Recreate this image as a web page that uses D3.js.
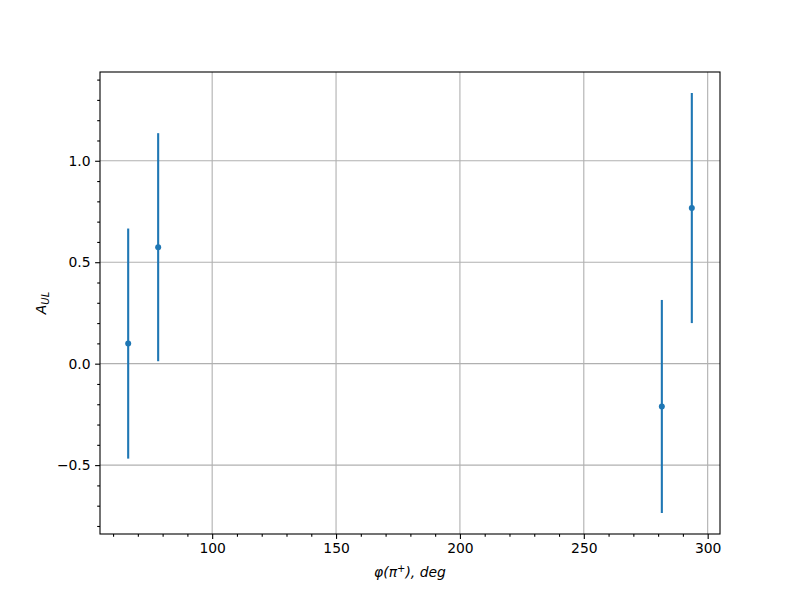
<!DOCTYPE html>
<html>
<head>
<meta charset="utf-8">
<script src="https://cdn.jsdelivr.net/npm/d3@7"></script>
<style>
  body { margin: 0; background: #fff; }
  svg { display: block; }
  text { font-family: "DejaVu Sans", sans-serif; }
</style>
</head>
<body>
<svg id="chart" width="800" height="600"></svg>
<script>
// Data
const phi = [66.1, 78.2, 281.5, 293.6];
const aul = [0.099, 0.574, -0.211, 0.767];
const err = [0.567, 0.562, 0.525, 0.567];
const xTicks = [100, 150, 200, 250, 300];
const yTicks = [-0.5, 0.0, 0.5, 1.0];

const W = 800, H = 600;
const m = { left: 100, right: 720, top: 72, bottom: 534 };
const svg = d3.select("#chart");
const color = "#1f77b4";

// Domains with 5% margins like matplotlib
const xmin = d3.min(phi), xmax = d3.max(phi);
const xpad = (xmax - xmin) * 0.05;
const lows = aul.map((v, i) => v - err[i]), highs = aul.map((v, i) => v + err[i]);
const ymin = d3.min(lows), ymax = d3.max(highs);
const ypad = (ymax - ymin) * 0.05;

const x = d3.scaleLinear().domain([xmin - xpad, xmax + xpad]).range([m.left, m.right]);
const y = d3.scaleLinear().domain([ymin - ypad, ymax + ypad]).range([m.bottom, m.top]);

const fmtMinus = s => s.replace("-", "\u2212");

// Grid
const grid = svg.append("g");
xTicks.forEach(t => {
  grid.append("line").attr("x1", x(t)).attr("x2", x(t)).attr("y1", m.top).attr("y2", m.bottom)
    .attr("stroke", "#b0b0b0").attr("stroke-width", 1.1);
});
yTicks.forEach(t => {
  grid.append("line").attr("x1", m.left).attr("x2", m.right).attr("y1", y(t)).attr("y2", y(t))
    .attr("stroke", "#b0b0b0").attr("stroke-width", 1.1);
});

// Error bars
const marks = svg.append("g");
phi.forEach((p, i) => {
  marks.append("line")
    .attr("x1", x(p)).attr("x2", x(p))
    .attr("y1", y(aul[i] - err[i])).attr("y2", y(aul[i] + err[i]))
    .attr("stroke", color).attr("stroke-width", 2.1);
  marks.append("circle").attr("cx", x(p)).attr("cy", y(aul[i])).attr("r", 3).attr("fill", color);
});

// Minor ticks
const xMinor = d3.range(60, 306, 10).filter(v => !xTicks.includes(v));
const yMinor = d3.range(-8, 15, 1).map(v => v / 10).filter(v => !yTicks.some(t => Math.abs(t - v) < 1e-9));

const xAxis = svg.append("g").attr("transform", `translate(0,${m.bottom})`)
  .call(d3.axisBottom(x).tickValues(xTicks).tickSize(4.9).tickSizeOuter(0).tickPadding(4.5).tickFormat(d3.format("d")));
const xAxisMinor = svg.append("g").attr("transform", `translate(0,${m.bottom})`)
  .call(d3.axisBottom(x).tickValues(xMinor).tickSize(2.8).tickSizeOuter(0).tickFormat(""));
const yAxis = svg.append("g").attr("transform", `translate(${m.left},0)`)
  .call(d3.axisLeft(y).tickValues(yTicks).tickSize(4.9).tickSizeOuter(0).tickPadding(4.5)
    .tickFormat(d => fmtMinus(d3.format(".1f")(d))));
const yAxisMinor = svg.append("g").attr("transform", `translate(${m.left},0)`)
  .call(d3.axisLeft(y).tickValues(yMinor).tickSize(2.8).tickSizeOuter(0).tickFormat(""));

[xAxis, xAxisMinor, yAxis, yAxisMinor].forEach(g => {
  g.select(".domain").remove();
  g.selectAll(".tick line").attr("stroke", "#000").attr("stroke-width", 1.1);
  g.selectAll(".tick text").attr("font-size", "13.9px").attr("fill", "#000")
    .attr("font-family", "DejaVu Sans, sans-serif");
});

// Spines
svg.append("rect").attr("x", m.left).attr("y", m.top)
  .attr("width", m.right - m.left).attr("height", m.bottom - m.top)
  .attr("fill", "none").attr("stroke", "#000").attr("stroke-width", 1.1);

// X label
const xl = svg.append("text").attr("x", (m.left + m.right) / 2).attr("y", 577)
  .attr("text-anchor", "middle").attr("font-size", "13.9px").attr("font-style", "italic");
xl.append("tspan").text("\u03C6(\u03C0");
xl.append("tspan").attr("dy", -5).attr("font-size", "10px").text("+");
xl.append("tspan").attr("dy", 5).text("), deg");

// Y label
const yl = svg.append("text")
  .attr("transform", `translate(46,${(m.top + m.bottom) / 2}) rotate(-90)`)
  .attr("text-anchor", "middle").attr("font-size", "13.9px").attr("font-style", "italic");
yl.append("tspan").text("A");
yl.append("tspan").attr("dy", 3).attr("font-size", "10px").text("UL");
</script>
</body>
</html>
